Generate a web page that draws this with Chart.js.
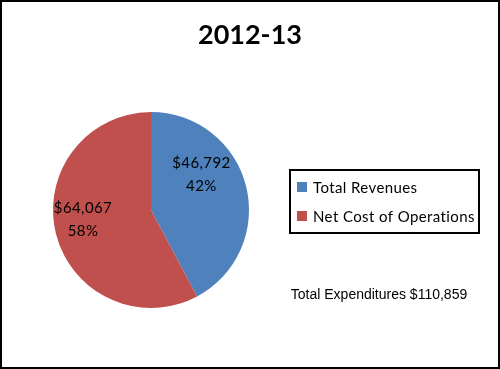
<!DOCTYPE html>
<html>
<head>
<meta charset="utf-8">
<script src="https://cdn.jsdelivr.net/npm/chart.js@4/dist/chart.umd.min.js"></script>
<style>
  html, body { margin: 0; padding: 0; background: #fff; }
  #wrap { width: 500px; height: 369px; position: relative; }
</style>
</head>
<body>
<div id="wrap"><canvas id="pieChart" width="500" height="369"></canvas></div>
<script>
// Chart data
const chartTitle = '2012-13';
const categories = ['Total Revenues', 'Net Cost of Operations'];
const amounts = [46792, 64067];
const percentLabels = ['42%', '58%'];
const totalLabel = 'Total Expenditures $110,859';
const sliceColors = ['#4F81BD', '#C0504D'];

// Draws title, border, slice labels, legend box and the total note
const decorPlugin = {
    id: 'decor',
    afterDraw(chart) {
        const ctx = chart.ctx;
        const w = chart.width, h = chart.height;
        ctx.save();

        // outer border
        ctx.strokeStyle = '#000';
        ctx.lineWidth = 2;
        ctx.strokeRect(1, 1, w - 2, h - 2);

        // title
        ctx.fillStyle = '#000';
        ctx.font = 'bold 27px Lato, "Open Sans", sans-serif';
        ctx.textAlign = 'center';
        ctx.textBaseline = 'middle';
        ctx.fillText(chartTitle, 250, 35);

        // slice labels
        const meta = chart.getDatasetMeta(0);
        const shifts = [-0.37, 0.11];   // nudge labels like Excel does
        const radFactor = [0.63, 0.70];
        ctx.font = '15px Lato, sans-serif';
        ctx.letterSpacing = '0.4px';
        meta.data.forEach(function(arc, i) {
            const p = arc.getProps(['x', 'y', 'startAngle', 'endAngle', 'outerRadius'], true);
            const mid = (p.startAngle + p.endAngle) / 2 + shifts[i];
            const r = p.outerRadius * radFactor[i];
            const cx = p.x + Math.cos(mid) * r;
            const cy = p.y + Math.sin(mid) * r;
            ctx.fillText('$' + amounts[i].toLocaleString('en-US'), cx, cy - 11);
            ctx.fillText(percentLabels[i], cx, cy + 12);
        });

        // legend box
        ctx.lineWidth = 2;
        ctx.strokeRect(290, 170, 189, 63);
        ctx.textAlign = 'left';
        ctx.font = '15px Lato, sans-serif';
        ctx.letterSpacing = '0.4px';
        categories.forEach(function(name, i) {
            const y = 187 + i * 29;
            ctx.fillStyle = sliceColors[i];
            ctx.fillRect(297, y - 5, 10, 10);
            ctx.fillStyle = '#000';
            ctx.fillText(name, 313, y + 1);
        });

        // total note
        ctx.letterSpacing = '0px';
        ctx.textAlign = 'center';
        ctx.font = '14px "Liberation Sans", Arial, sans-serif';
        ctx.fillText(totalLabel, 379, 295);

        ctx.restore();
    }
};

new Chart(document.getElementById('pieChart'), {
    type: 'pie',
    data: {
        labels: categories,
        datasets: [{
            data: amounts,
            backgroundColor: sliceColors,
            borderWidth: 0
        }]
    },
    options: {
        responsive: false,
        animation: false,
        layout: {
            padding: { left: 53, right: 251, top: 112, bottom: 61 }
        },
        plugins: {
            legend: { display: false },
            title: { display: false },
            tooltip: { enabled: false }
        }
    },
    plugins: [decorPlugin]
});
</script>
</body>
</html>
